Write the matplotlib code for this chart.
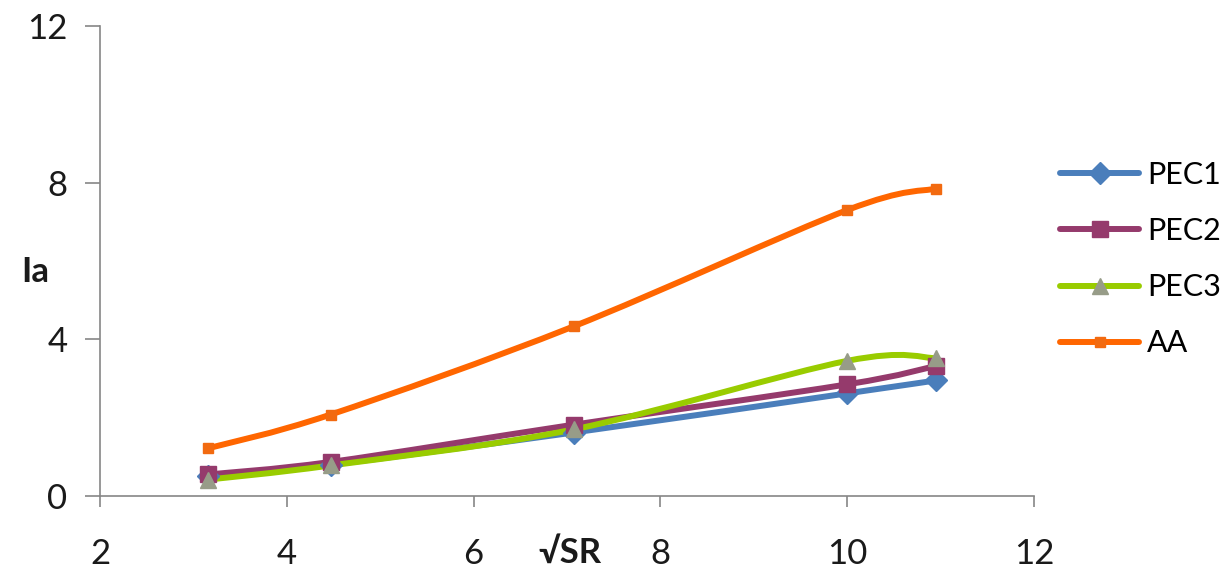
import numpy as np
import matplotlib
matplotlib.use("Agg")
import matplotlib.pyplot as plt
from matplotlib.path import Path
from matplotlib.patches import PathPatch
from matplotlib.lines import Line2D

# ---- data ----
x_vals = [3.16, 4.47, 7.07, 10.0, 10.95]
pec1 = [0.50, 0.80, 1.62, 2.62, 2.95]
pec2 = [0.55, 0.87, 1.82, 2.85, 3.32]
pec3 = [0.42, 0.78, 1.70, 3.45, 3.52]
aa = [1.22, 2.08, 4.33, 7.30, 7.85]
series_names = ["PEC1", "PEC2", "PEC3", "AA"]
x_ticks = [2, 4, 6, 8, 10, 12]
y_ticks = [0, 4, 8, 12]

colors = {"PEC1": "#4A7EBB", "PEC2": "#953A6C", "PEC3": "#99CC00", "AA": "#FF6600"}
marker_colors = {"PEC1": "#4A7EBB", "PEC2": "#953A6C", "PEC3": "#979C88", "AA": "#F26A10"}
markers = {"PEC1": "D", "PEC2": "s", "PEC3": "^", "AA": "s"}
msizes = {"PEC1": 11, "PEC2": 12, "PEC3": 12, "AA": 6.5}

plt.rcParams['font.family'] = ['Lato', 'DejaVu Sans']

fig = plt.figure(figsize=(12.29, 5.75), dpi=100)
ax = fig.add_axes([0.0814, 0.1374, 0.7599, 0.8174])


def smooth_path(xs, ys):
    pts = np.column_stack([xs, ys])
    n = len(pts)
    verts = [pts[0]]
    codes = [Path.MOVETO]
    for i in range(n - 1):
        p0 = pts[i - 1] if i > 0 else pts[i]
        p1 = pts[i]
        p2 = pts[i + 1]
        p3 = pts[i + 2] if i + 2 < n else pts[i + 1]
        c1 = p1 + (p2 - p0) / 6.0
        c2 = p2 - (p3 - p1) / 6.0
        verts += [c1, c2, p2]
        codes += [Path.CURVE4] * 3
    return Path(verts, codes)


LW = 4.3
data = {"PEC1": pec1, "PEC2": pec2, "PEC3": pec3, "AA": aa}
handles = []
for name in series_names:
    ys = data[name]
    patch = PathPatch(smooth_path(x_vals, ys), facecolor="none",
                      edgecolor=colors[name], lw=LW, capstyle="round",
                      joinstyle="round", zorder=3)
    ax.add_patch(patch)
for name in series_names:
    ys = data[name]
    ax.plot(x_vals, ys, linestyle="none", marker=markers[name],
            markersize=msizes[name], markerfacecolor=marker_colors[name],
            markeredgecolor=marker_colors[name], zorder=4)
    handles.append(Line2D([], [], color=colors[name], lw=LW,
                          marker=markers[name], markersize=msizes[name],
                          markerfacecolor=marker_colors[name],
                          markeredgecolor=marker_colors[name],
                          solid_capstyle="round"))

ax.set_xlim(2, 12)
ax.set_ylim(0, 12)
ax.set_xticks(x_ticks)
ax.set_yticks(y_ticks)
ax.set_xticklabels([str(t) for t in x_ticks])
ax.set_yticklabels([str(t) for t in y_ticks])

for s in ["top", "right"]:
    ax.spines[s].set_visible(False)
for s in ["left", "bottom"]:
    ax.spines[s].set_color("#868686")
    ax.spines[s].set_linewidth(1.2)

ax.tick_params(axis="x", direction="out", length=8, width=1.2, color="#868686",
               labelsize=25, pad=22, labelcolor="#1a1a1a")
ax.tick_params(axis="y", direction="out", length=11, width=1.2, color="#868686",
               labelsize=25, pad=12.5, labelcolor="#1a1a1a")

fig.text(0.4638, 0.0383, "√SR", fontsize=25, fontweight="bold", ha="center",
         va="center", color="#1a1a1a")
fig.text(0.017, 0.527, "Ia", fontsize=25, fontweight="bold", ha="left",
         va="center", color="#1a1a1a")

leg = fig.legend(handles=handles, labels=series_names, loc="upper left",
                 bbox_to_anchor=(0.8625, 0.72), frameon=False, fontsize=22,
                 handlelength=2.6, handletextpad=0.26, labelspacing=0.92,
                 borderaxespad=0, borderpad=0)

fig.savefig("out.png", dpi=100)
